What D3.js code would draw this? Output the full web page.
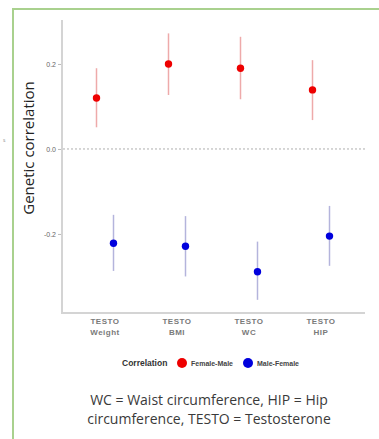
<!DOCTYPE html>
<html>
<head>
<meta charset="utf-8">
<script src="https://cdn.jsdelivr.net/npm/d3@7"></script>
<style>
  body { margin: 0; background: #fff; }
  svg { display: block; font-family: "Open Sans", "DejaVu Sans", sans-serif; }
  .axis-line { stroke: #d4d4d4; stroke-width: 2; }
  .y.axis text { fill: #666; font-size: 7px; }
  .y.axis line { stroke: #bbb; }
  .x.axis text { fill: #7a7a7a; font-size: 8px; font-weight: bold; letter-spacing: 0.5px; font-family: "Liberation Sans", Arial, sans-serif; }
  .zero-line { stroke: #999; stroke-dasharray: 2,2; stroke-width: 0.8; }
  .legend text { font-size: 7px; font-weight: bold; font-family: "Liberation Sans", Arial, sans-serif; fill: #444; }
  .legend text.title { font-size: 8.5px; fill: #333; }
  .caption { font-size: 14px; fill: #3a3a3a; }
</style>
</head>
<body>
<div id="chart"></div>
<script>
// Data
const traits = ['TESTO Weight', 'TESTO BMI', 'TESTO WC', 'TESTO HIP'];
const seriesNames = ['Female-Male', 'Male-Female'];
const seriesColors = ['#ee0000', '#0000dd'];
const barColors = ['#eeaaaa', '#b4b4dc'];
const femaleMale = [0.12, 0.20, 0.19, 0.139];
const femaleMaleLow = [0.051, 0.127, 0.117, 0.068];
const femaleMaleHigh = [0.19, 0.272, 0.264, 0.209];
const maleFemale = [-0.222, -0.229, -0.289, -0.205];
const maleFemaleLow = [-0.287, -0.30, -0.355, -0.275];
const maleFemaleHigh = [-0.155, -0.158, -0.218, -0.134];
const yTicks = [-0.2, 0.0, 0.2];
const captionLines = ['WC = Waist circumference, HIP = Hip', 'circumference, TESTO = Testosterone'];

const width = 379, height = 439;
const svg = d3.select('#chart').append('svg')
  .attr('width', width)
  .attr('height', height);

// slide frame
svg.append('path')
  .attr('d', 'M13,' + height + ' L13,9 L' + width + ',9')
  .attr('fill', 'none')
  .attr('stroke', '#a9d18e')
  .attr('stroke-width', 2);
svg.append('text')
  .attr('x', 3).attr('y', 142)
  .attr('font-size', 5).attr('fill', '#888')
  .text('s');

const plot = { left: 62, right: 365, top: 20, bottom: 313 };

const x = d3.scaleBand()
  .domain(traits)
  .range([69, 357]);
const y = d3.scaleLinear()
  .domain([-0.386, 0.3035])
  .range([plot.bottom, plot.top]);

const dodge = 8.5;
const series = [
  { name: seriesNames[0], est: femaleMale, lo: femaleMaleLow, hi: femaleMaleHigh, off: -dodge },
  { name: seriesNames[1], est: maleFemale, lo: maleFemaleLow, hi: maleFemaleHigh, off: dodge }
];

// Axes
const yAxis = svg.append('g')
  .attr('class', 'y axis')
  .attr('transform', 'translate(' + (plot.left - 1) + ',0)')
  .call(d3.axisLeft(y).tickValues(yTicks).tickSize(3).tickSizeOuter(0)
    .tickFormat(d => d3.format('.1f')(d).replace('\u2212', '-')));
yAxis.select('.domain').remove();
yAxis.selectAll('text').attr('x', -5);

svg.append('line').attr('class', 'axis-line')
  .attr('x1', plot.left).attr('x2', plot.left)
  .attr('y1', plot.top).attr('y2', plot.bottom + 1);
svg.append('line').attr('class', 'axis-line')
  .attr('x1', plot.left).attr('x2', plot.right)
  .attr('y1', plot.bottom).attr('y2', plot.bottom);

svg.append('line').attr('class', 'zero-line')
  .attr('x1', plot.left + 1).attr('x2', plot.right)
  .attr('y1', y(0)).attr('y2', y(0));

const xAxis = svg.append('g')
  .attr('class', 'x axis')
  .attr('transform', 'translate(0,' + plot.bottom + ')')
  .call(d3.axisBottom(x).tickSize(0).tickFormat(''));
xAxis.select('.domain').remove();
xAxis.selectAll('.tick text').remove();
xAxis.selectAll('.tick').each(function(d) {
  const t = d3.select(this).append('text').attr('text-anchor', 'middle');
  d.split(' ').forEach((w, i) => {
    t.append('tspan').attr('x', 0).attr('y', 10.5 + i * 11).text(w);
  });
});

// Y label
svg.append('text')
  .attr('transform', 'translate(34,148) rotate(-90)')
  .attr('text-anchor', 'middle')
  .attr('font-size', 15)
  .attr('fill', '#222')
  .text('Genetic correlation');

// Error bars and points
series.forEach((s, k) => {
  const g = svg.append('g');
  g.selectAll('line.err')
    .data(traits)
    .enter().append('line')
    .attr('class', 'err')
    .attr('x1', (d) => x(d) + x.bandwidth() / 2 + s.off)
    .attr('x2', (d) => x(d) + x.bandwidth() / 2 + s.off)
    .attr('y1', (d, i) => y(s.lo[i]))
    .attr('y2', (d, i) => y(s.hi[i]))
    .attr('stroke', barColors[k])
    .attr('stroke-width', 1.5);
  g.selectAll('circle.pt')
    .data(traits)
    .enter().append('circle')
    .attr('class', 'pt')
    .attr('cx', (d) => x(d) + x.bandwidth() / 2 + s.off)
    .attr('cy', (d, i) => y(s.est[i]))
    .attr('r', 3.7)
    .attr('fill', seriesColors[k]);
});

// Legend
const legend = svg.append('g').attr('class', 'legend').attr('transform', 'translate(0,363)');
legend.append('text').attr('class', 'title').attr('x', 122).attr('y', 3).text('Correlation');
const legendX = [182, 248];
seriesNames.forEach((n, i) => {
  legend.append('circle').attr('cx', legendX[i]).attr('cy', 0).attr('r', 5).attr('fill', seriesColors[i]);
  legend.append('text').attr('x', legendX[i] + 9).attr('y', 2.5).text(n);
});

// Caption
svg.selectAll('text.caption')
  .data(captionLines)
  .enter().append('text')
  .attr('class', 'caption')
  .attr('x', 209)
  .attr('y', (d, i) => 405 + i * 19)
  .attr('text-anchor', 'middle')
  .text(d => d);
</script>
</body>
</html>
